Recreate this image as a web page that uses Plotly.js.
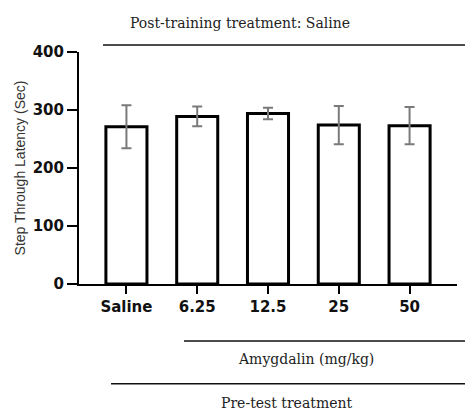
<!DOCTYPE html>
<html>
<head>
<meta charset="utf-8">
<script src="https://cdn.plot.ly/plotly-3.0.1.min.js"></script>
<style>html,body{margin:0;padding:0;background:#fff;}#chart{width:465px;height:411px;}</style>
</head>
<body>
<div id="chart"></div>
<script>
const categories = ["Saline", "6.25", "12.5", "25", "50"];
const latency = [271, 289, 294, 274, 273];
const sem = [37, 17, 10, 33, 32];
const yTicks = [0, 100, 200, 300, 400];

const trace = {
  type: "bar",
  x: categories,
  y: latency,
  width: 0.58,
  marker: { color: "#ffffff", line: { color: "#000000", width: 3 } },
  error_y: { type: "data", array: sem, visible: true, color: "#7a7a7a", thickness: 2, width: 5 },
  hoverinfo: "skip"
};

const serif = { family: "DejaVu Serif, serif", size: 14, color: "#222" };

const layout = {
  width: 465, height: 411,
  margin: { l: 79, r: 8, t: 52, b: 127 },
  paper_bgcolor: "#ffffff", plot_bgcolor: "#ffffff",
  showlegend: false,
  bargap: 0.4,
  xaxis: {
    type: "category",
    range: [-0.67, 4.67],
    showline: true, linecolor: "#000", linewidth: 2,
    ticks: "outside", ticklen: 8, tickwidth: 2, tickcolor: "#000",
    tickfont: { family: "DejaVu Sans", size: 15, color: "#111", weight: "bold" },
    showgrid: false, zeroline: false, fixedrange: true
  },
  yaxis: {
    range: [0, 400],
    tickvals: yTicks,
    showline: true, linecolor: "#000", linewidth: 2,
    ticks: "outside", ticklen: 10, tickwidth: 2, tickcolor: "#000",
    tickfont: { family: "DejaVu Sans", size: 15, color: "#111", weight: "bold" },
    showgrid: false, zeroline: false, fixedrange: true,
    title: { text: "Step Through Latency (Sec)", font: { family: "Liberation Sans, Arial, sans-serif", size: 14, color: "#333" }, standoff: 4 }
  },
  shapes: [
    { type: "line", xref: "paper", yref: "paper", x0: 0.0635, x1: 1.03, y0: 1.030, y1: 1.030, line: { color: "#111", width: 1.5 } },
    { type: "line", xref: "paper", yref: "paper", x0: 0.2778, x1: 1.03, y0: -0.2457, y1: -0.2457, line: { color: "#111", width: 1.5 } },
    { type: "line", xref: "paper", yref: "paper", x0: 0.0847, x1: 1.03, y0: -0.4297, y1: -0.4297, line: { color: "#111", width: 1.5 } }
  ],
  annotations: [
    { text: "Post-training treatment: Saline", xref: "paper", yref: "paper", x: 0.426, y: 1.125, xanchor: "center", yanchor: "middle", showarrow: false, font: serif },
    { text: "Amygdalin (mg/kg)", xref: "paper", yref: "paper", x: 0.601, y: -0.323, xanchor: "center", yanchor: "middle", showarrow: false, font: serif },
    { text: "Pre-test treatment", xref: "paper", yref: "paper", x: 0.550, y: -0.513, xanchor: "center", yanchor: "middle", showarrow: false, font: serif }
  ]
};

Plotly.newPlot("chart", [trace], layout, { displayModeBar: false, staticPlot: true });
</script>
</body>
</html>
